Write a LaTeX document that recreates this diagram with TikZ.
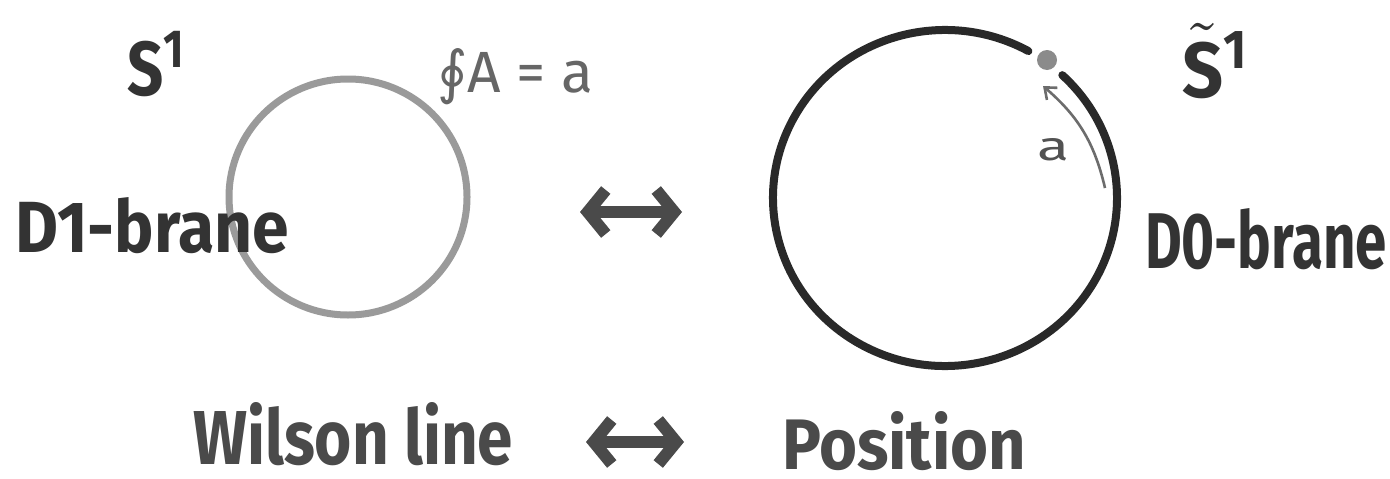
\documentclass[tikz,border=0pt]{standalone}
\usepackage{fontspec}
\setmainfont{Fira Sans}
\newfontfamily\dejavu{DejaVu Sans}
\usetikzlibrary{arrows.meta}
\definecolor{ink}{HTML}{333333}
\definecolor{midink}{HTML}{4A4A4A}
\definecolor{paleink}{HTML}{9A9A9A}
\newcommand\fitbox[3]{\resizebox{#1}{#2}{#3}}
\tikzset{
  hand/.style={inner sep=0pt, outer sep=0pt, text=ink, font=\bfseries},
  bigarrow/.style={draw=midink, line width=6pt, line cap=round,
    {Straight Barb[length=9pt,width=22pt,line width=6pt]}-{Straight Barb[length=9pt,width=22pt,line width=6pt]}},
}
\begin{document}
\begin{tikzpicture}[x=0.5pt,y=0.5pt]
\useasboundingbox (0,0) rectangle (1390,478);
\fill[white] (0,0) rectangle (1390,478);
% left circle (D1-brane on S^1)
\coordinate (lc) at (348,281);
\draw[paleink, line width=3.5pt] (lc) ellipse[x radius=119, y radius=118];
% right circle (D0-brane on dual S^1)
\coordinate (rc) at (945,280);
\draw[ink!80!black, line width=4pt, line cap=round] (rc) ++(61:172 and 168) arc[start angle=61, end angle=407, x radius=172, y radius=168];
\node[circle, fill=paleink!90!black, minimum size=10pt, inner sep=0pt] (dot) at (1047,418) {};
% small arrow along the circle
\coordinate (ap1) at (1105,290);
\coordinate (ap2) at (1043,392);
\draw[paleink!70!black, line width=1.3pt, -{Straight Barb[length=5pt,width=8pt]}] (ap1) to[bend right=18] (ap2);
\node[hand, font=\normalfont, text=ink!85, anchor=base] (alab) at (1053,318) {\fitbox{16pt}{11pt}{a}};
% labels
\node[hand, anchor=base west] (s1) at (127,383) {\fitbox{30pt}{32pt}{S\textsuperscript{1}}};
\node[hand, font=\normalfont, text=ink!75, anchor=base west] (oint) at (437,386) {\fitbox{78pt}{22pt}{{\dejavu ∮}A = a}};
\node[hand, anchor=base west] (d1) at (15,226) {\fitbox{137pt}{27.5pt}{D1-brane}};
\node[hand, anchor=base west] (st) at (1182,381) {\fitbox{34pt}{37pt}{$\tilde{\textbf{S}}$\textsuperscript{1}}};
\node[hand, anchor=base west] (d0) at (1145,210) {\fitbox{121pt}{30pt}{D0-brane}};
\node[hand, text=midink, anchor=base west] (wl) at (193,14) {\fitbox{160pt}{31pt}{Wilson line}};
\node[hand, text=midink, anchor=base west] (pos) at (782,9) {\fitbox{122pt}{29pt}{Position}};
% double arrows
\coordinate (m1) at (580,266);
\coordinate (m2) at (682,266);
\draw[bigarrow] (m1) -- (m2);
\coordinate (b1) at (586,36);
\coordinate (b2) at (684,36);
\draw[bigarrow] (b1) -- (b2);
\end{tikzpicture}
\end{document}
